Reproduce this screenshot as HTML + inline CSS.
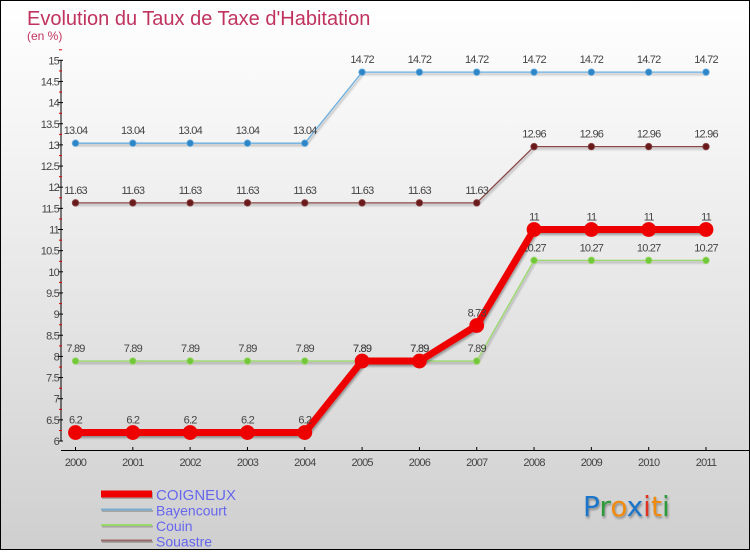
<!DOCTYPE html>
<html><head><meta charset="utf-8">
<style>
html,body{margin:0;padding:0}
body{width:750px;height:550px;overflow:hidden;font-family:"Liberation Sans",sans-serif}
#wrap{position:relative;width:748px;height:548px;border:1px solid #000;background:linear-gradient(#ffffff,#f2f2f2 30%,#cfcfcf)}
</style></head>
<body>
<div id="wrap">
<svg id="chart" width="748" height="548" xmlns="http://www.w3.org/2000/svg">
<defs><filter id="sh" x="-20%" y="-20%" width="140%" height="140%"><feDropShadow dx="1" dy="2" stdDeviation="1" flood-opacity="0.35"/></filter></defs>
<text x="26" y="24" font-size="20" fill="#c0335f">Evolution du Taux de Taxe d'Habitation</text>
<text x="26" y="39" font-size="12" fill="#c0335f">(en %)</text>
<g id="axes"></g>
<g id="series"></g>
<g id="legend"></g>
<text x="582" y="515" font-size="28" font-family="'DejaVu Sans',sans-serif" filter="url(#sh)"><tspan fill="#1a74c9">P</tspan><tspan fill="#2e9a3a">r</tspan><tspan fill="#f08a10">o</tspan><tspan fill="#1a74c9">x</tspan><tspan fill="#e03020">i</tspan><tspan fill="#f08a10">t</tspan><tspan fill="#2e9a3a">i</tspan></text>
</svg>
</div>
<script>
const years=[2000,2001,2002,2003,2004,2005,2006,2007,2008,2009,2010,2011];
const coigneux=[6.2,6.2,6.2,6.2,6.2,7.89,7.89,8.73,11,11,11,11];
const bayencourt=[13.04,13.04,13.04,13.04,13.04,14.72,14.72,14.72,14.72,14.72,14.72,14.72];
const couin=[7.89,7.89,7.89,7.89,7.89,7.89,7.89,7.89,10.27,10.27,10.27,10.27];
const souastre=[11.63,11.63,11.63,11.63,11.63,11.63,11.63,11.63,12.96,12.96,12.96,12.96];
const yTicks=[6,6.5,7,7.5,8,8.5,9,9.5,10,10.5,11,11.5,12,12.5,13,13.5,14,14.5,15];
const seriesNames=["COIGNEUX","Bayencourt","Couin","Souastre"];

const NS="http://www.w3.org/2000/svg";
const xs=i=>74.5+(705-74.5)*i/(years.length-1);
const ys=v=>440-(v-6)*42.3;
function mk(tag,attrs,parent){const e=document.createElementNS(NS,tag);for(const k in attrs)e.setAttribute(k,attrs[k]);parent.appendChild(e);return e;}
const axes=document.getElementById('axes');
let yAxis=mk('line',{x1:60,x2:60,y1:ys(15),y2:ys(6),stroke:'#000','stroke-width':1},axes);


yTicks.forEach(t=>{
  const y=ys(t);
  let tk=mk('line',{x1:57,x2:62,y1:y,y2:y,stroke:'#000'},axes);
  
  
  let mt=mk('line',{x1:58,x2:61,y1:y-10.5,y2:y-10.5,stroke:'#d00'},axes);
  
  
  let lb=mk('text',{x:58,y:y+4,'font-size':11,fill:'#444','text-anchor':'end','letter-spacing':'-0.8'},axes);
  lb.textContent=String(t);
  
  
});
let xAxis=mk('line',{x1:60,x2:748,y1:449.5,y2:449.5,stroke:'#000'},axes);


years.forEach((yr,i)=>{
  const x=xs(i);
  let tk=mk('line',{x1:x,x2:x,y1:446,y2:450,stroke:'#000'},axes);
  
  
  let lb=mk('text',{x:x,y:465,'font-size':11,fill:'#444','text-anchor':'middle','letter-spacing':'-0.8'},axes);
  lb.textContent=String(yr);
  
  
});
const sg=document.getElementById('series');
function drawSeries(vals,color,dot,w,r,name,labels){
  const g=mk('g',{},sg);
  
  
  const pts=vals.map((v,i)=>xs(i)+','+ys(v)).join(' ');
  let pl=mk('polyline',{points:pts,fill:'none',stroke:color,'stroke-width':w,'stroke-linejoin':'round',filter:'url(#sh)'},g);
  
  
  vals.forEach((v,i)=>{
    let c=mk('circle',{cx:xs(i),cy:ys(v),r:r,fill:dot,stroke:color,'stroke-width':0.8},g);
    
    
    if(labels){
      let t=mk('text',{x:xs(i),y:ys(v)-9,'font-size':11,fill:'#444','text-anchor':'middle','letter-spacing':'-0.8'},g);
      t.textContent=String(v);
      
      
    }
  });
}
drawSeries(bayencourt,'#6aaee0','#2f86c6',1.3,3.3,'bayencourt',true);
drawSeries(souastre,'#8a4a4a','#6a1a1a',1.3,3.3,'souastre',true);
drawSeries(couin,'#9ad86a','#72c83a',1.3,3.3,'couin',true);
drawSeries(coigneux,'#ee0000','#ee0000',7,7,'coigneux',true);

const lg=document.getElementById('legend');
const lcol=['#ee0000','#7aaed0','#9ad86a','#9a6a6a'];
const lw=[7,2,2,2];
seriesNames.forEach((n,i)=>{
  const y=493+i*15.5;
  let s=mk('rect',{x:101,y:y-lw[i]/2+1.5,width:51,height:lw[i],fill:'#777',opacity:0.5},lg);
  
  
  let l=mk('rect',{x:100,y:y-lw[i]/2,width:51,height:lw[i],fill:lcol[i]},lg);
  
  
  let t=mk('text',{x:155,y:y+6,'font-size':i==0?15:14,fill:'#6666ee'},lg);
  t.textContent=n;
  
  
});
</script>
</body></html>
